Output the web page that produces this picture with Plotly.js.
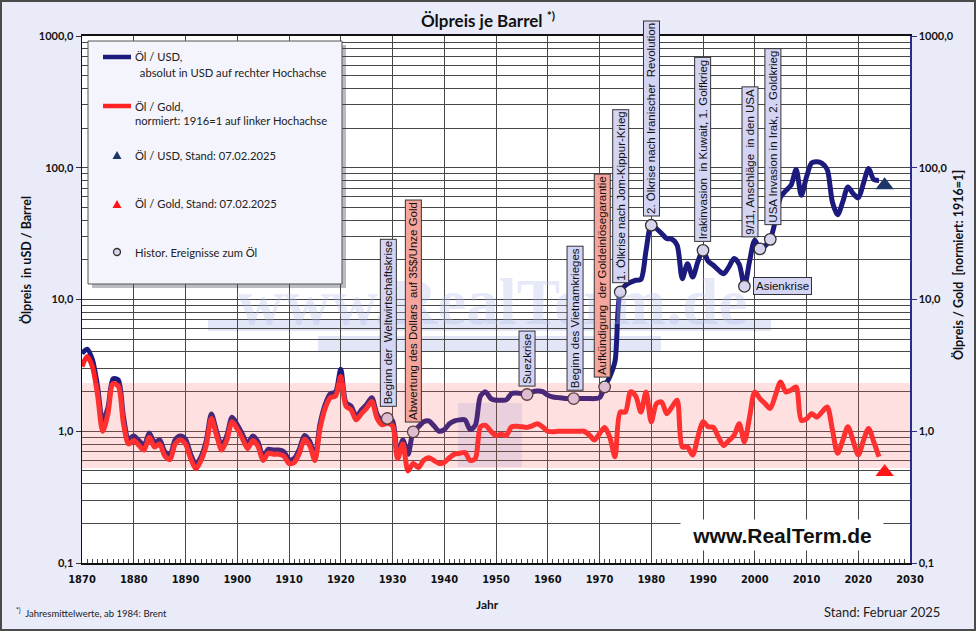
<!DOCTYPE html>
<html><head><meta charset="utf-8">
<script src="https://cdn.plot.ly/plotly-3.0.1.min.js"></script>
<style>html,body{margin:0;padding:0;background:#e8eaf8}#chart{width:976px;height:631px}</style>
</head><body><div id="chart"></div><script>
// ---------- data ----------
const startYear = 1870;
// Oil price in USD per barrel (annual means), 1870..2024
const oilUsd = [
  3.9, 4.2, 3.5, 2.2, 1.2, 1.5, 2.5, 2.45, 1.3, 0.87,
  0.92, 0.85, 0.78, 0.97, 0.82, 0.86, 0.70, 0.66, 0.86, 0.92,
  0.87, 0.67, 0.56, 0.64, 0.84, 1.35, 1.0, 0.78, 0.93, 1.28,
  1.12, 0.95, 0.80, 0.92, 0.83, 0.64, 0.73, 0.72, 0.72, 0.70,
  0.61, 0.62, 0.73, 0.93, 0.84, 0.64, 1.14, 1.6, 1.93, 1.99,
  2.95, 1.65, 1.55, 1.3, 1.45, 1.6, 1.8, 1.35, 1.2, 1.25,
  1.2, 0.66, 0.86, 0.67, 0.99, 1.08, 1.18, 1.2, 1.1, 1.0,
  1.03, 1.14, 1.2, 1.22, 1.22, 1.03, 1.11, 1.85, 1.99, 1.77,
  1.72, 1.72, 1.73, 1.93, 1.95, 1.93, 1.90, 1.99, 2.02, 2.0,
  1.88, 1.82, 1.80, 1.78, 1.77, 1.77, 1.77, 1.77, 1.77, 1.77,
  1.80, 2.17, 2.6, 3.4, 11.4, 12.8, 13.5, 14.0, 14.2, 23.6,
  36.6, 34.5, 31.7, 29.0, 28.7, 25.8, 14.4, 18.7, 14.8, 19.3,
  23.6, 19.5, 18.2, 16.7, 15.7, 17.7, 20.5, 18.5, 12.6, 19.5,
  28.2, 24.2, 25.5, 28.6, 40, 60, 67, 73.6, 97, 61.8,
  85, 109, 111, 108, 97, 55, 44, 55, 71.6, 63.7,
  59, 76, 98.6, 81.3, 80
];
// Oil / gold ratio, normalised 1916 = 1, 1870..2024
const oilGold = [
  3.1, 3.7, 3.1, 1.9, 1.0, 1.35, 2.3, 2.2, 1.15, 0.8,
  0.85, 0.78, 0.72, 0.9, 0.76, 0.8, 0.65, 0.61, 0.8, 0.86,
  0.8, 0.62, 0.52, 0.6, 0.78, 1.25, 0.93, 0.72, 0.86, 1.18,
  1.04, 0.88, 0.74, 0.85, 0.77, 0.6, 0.68, 0.67, 0.67, 0.65,
  0.57, 0.58, 0.68, 0.87, 0.78, 0.6, 1.05, 1.5, 1.8, 1.85,
  2.6, 1.55, 1.45, 1.22, 1.36, 1.5, 1.68, 1.26, 1.12, 1.15,
  1.1, 0.62, 0.8, 0.5, 0.57, 0.53, 0.6, 0.63, 0.6, 0.57,
  0.58, 0.63, 0.67, 0.68, 0.69, 0.6, 0.62, 1.08, 1.11, 1.0,
  0.93, 0.95, 0.93, 1.08, 1.09, 1.08, 1.07, 1.1, 1.14, 1.08,
  1.0, 0.99, 1.0, 1.0, 1.0, 1.0, 1.0, 1.0, 0.94, 0.86,
  0.96, 1.07, 0.9, 0.64, 1.4, 1.4, 1.99, 1.85, 1.4, 1.99,
  1.18, 1.62, 1.67, 1.36, 1.53, 1.72, 0.76, 0.76, 0.66, 0.9,
  1.18, 1.08, 1.07, 0.9, 0.78, 0.85, 0.93, 1.14, 0.83, 1.28,
  1.99, 1.77, 1.62, 1.49, 1.88, 2.37, 1.99, 2.05, 2.17, 1.21,
  1.24, 1.36, 1.28, 1.4, 1.53, 1.03, 0.68, 0.85, 1.08, 0.85,
  0.66, 0.85, 1.05, 0.83, 0.64
];
// Latest values (Stand: 07.02.2025)
const latestYear = 2025.1;
const latestUsd = 73.6;
const latestGold = 0.49;
// Historic events
const eventYears = [1929, 1934, 1956, 1965, 1971, 1974, 1980, 1990, 1998, 2001, 2003];
const eventLabels = [
  'Beginn der&nbsp; Weltwirtschaftskrise',
  'Abwertung des Dollars&nbsp; auf 35$/Unze Gold',
  'Suezkrise',
  'Beginn des Vietnamkrieges',
  'Aufkündigung&nbsp; der Goldeinlösegarantie',
  '1. Ölkrise nach Jom-Kippur-Krieg',
  '2. Ölkrise nach Iranischer&nbsp; Revolution',
  'Irakinvasion&nbsp; in Kuwait, 1. Golfkrieg',
  'Asienkrise',
  '9/11, Anschläge&nbsp; in den USA',
  'USA Invasion in Irak, 2. Goldkrieg'
];
const eventIsGold = [false, true, false, false, true, false, false, false, false, false, false];
// Axis ticks
const xTicks = [1870,1880,1890,1900,1910,1920,1930,1940,1950,1960,1970,1980,1990,2000,2010,2020,2030];
const yTickVals = [0.1, 1, 10, 100, 1000];
const yTickText = ['0,1', '1,0', '10,0', '100,0', '1000,0'];
const yMinorVals = [0.2,0.3,0.4,0.5,0.6,0.7,0.8,0.9, 2,3,4,5,6,7,8,9, 20,30,40,50,60,70,80,90, 200,300,400,500,600,700,800,900];

// ---------- helpers ----------
const years = oilUsd.map((_, i) => startYear + i);
const valueAt = (arr, yr) => arr[yr - startYear];
const L = 82, R = 910, T = 36, B = 563;
const px = x => (x - L) / (R - L);
const py = y => (B - y) / (B - T);
const NAVY = '#1c1a7c', RED = '#ff2424';
const SANS = 'Lato, "Open Sans", sans-serif';
const ARIAL = '"Liberation Sans", Arial, sans-serif';

// ---------- traces ----------
const traces = [
  {x: years, y: oilUsd, type: 'scatter', mode: 'lines', yaxis: 'y',
   line: {color: NAVY, width: 5, shape: 'spline', smoothing: 0.8}, hoverinfo: 'skip'},
  {x: years, y: oilGold, type: 'scatter', mode: 'lines', yaxis: 'y2',
   line: {color: RED, width: 5, shape: 'spline', smoothing: 0.8}, hoverinfo: 'skip'},
  {x: eventYears, y: eventYears.map(yr => valueAt(oilUsd, yr)), type: 'scatter', mode: 'markers', yaxis: 'y2',
   marker: {symbol: 'circle', size: 11.5, color: '#d8d4ee', line: {color: '#333', width: 1.3}}, hoverinfo: 'skip'},
  {x: [latestYear], y: [latestUsd], type: 'scatter', mode: 'markers', yaxis: 'y2',
   marker: {symbol: 'triangle-up', size: 16, color: '#1e3668'}, hoverinfo: 'skip'},
  {x: [latestYear], y: [latestGold], type: 'scatter', mode: 'markers', yaxis: 'y2',
   marker: {symbol: 'triangle-up', size: 16, color: '#ff1515'}, hoverinfo: 'skip'}
];

// ---------- shapes ----------
const shapes = [
  // watermark blocks
  {type:'rect', xref:'paper', yref:'paper', x0:px(208), x1:px(771), y0:py(331), y1:py(319), fillcolor:'#e2e6f7', line:{width:0}, layer:'below'},
  {type:'rect', xref:'paper', yref:'paper', x0:px(318), x1:px(661), y0:py(352), y1:py(336), fillcolor:'#e2e6f7', line:{width:0}, layer:'below'},
  {type:'rect', xref:'paper', yref:'paper', x0:px(458), x1:px(522), y0:py(467), y1:py(403), fillcolor:'#e7eafb', line:{width:0}, layer:'below'},
  // pink band
  {type:'rect', xref:'paper', yref:'paper', x0:0, x1:1, y0:py(468), y1:py(383), fillcolor:'rgba(250,100,100,0.2)', line:{width:0}, layer:'above'},
  // legend shadow + box
  {type:'rect', xref:'paper', yref:'paper', x0:px(92), x1:px(346), y0:py(288), y1:py(45), fillcolor:'rgba(60,60,80,0.35)', line:{width:0}, layer:'above'},
  {type:'rect', xref:'paper', yref:'paper', x0:px(88), x1:px(342), y0:py(284), y1:py(41), fillcolor:'#f3f4fc', line:{color:'#555', width:1}, layer:'above'},
  {type:'line', xref:'paper', yref:'paper', x0:px(103), x1:px(131), y0:py(57), y1:py(57), line:{color:NAVY, width:4.5}, layer:'above'},
  {type:'line', xref:'paper', yref:'paper', x0:px(103), x1:px(131), y0:py(106), y1:py(106), line:{color:RED, width:4.5}, layer:'above'},
  {type:'path', xref:'paper', yref:'paper', path:`M${px(112.5)},${py(159)} L${px(121.5)},${py(159)} L${px(117)},${py(151)} Z`, fillcolor:'#1e3668', line:{width:0}, layer:'above'},
  {type:'path', xref:'paper', yref:'paper', path:`M${px(112.5)},${py(208)} L${px(121.5)},${py(208)} L${px(117)},${py(200)} Z`, fillcolor:'#ff1515', line:{width:0}, layer:'above'},
  {type:'circle', xref:'paper', yref:'paper', x0:px(113.5), x1:px(120.5), y0:py(255.5), y1:py(248.5), fillcolor:'#d8d4ee', line:{color:'#333', width:1.3}, layer:'above'},
  // outer border
  {type:'rect', xref:'paper', yref:'paper', x0:px(1), x1:px(975), y0:py(630), y1:py(1), line:{color:'#4a4a4a', width:2}, layer:'above'}
];

// ---------- annotations ----------
const eventOffsets = [[1,12],[0,9],[0,8],[1,8],[-2,9],[0,9],[0,9],[0,8],[9,0],[-10,12],[3,14]];
const annotations = [];
// watermark
annotations.push({xref:'paper', yref:'paper', x:px(492), y:py(302), xanchor:'center', yanchor:'middle', text:'www.RealTerm.de', showarrow:false,
  font:{family:'"Liberation Serif", "DejaVu Serif", serif', size:65, color:'rgba(175,187,235,0.33)', weight:700}});
eventYears.forEach((yr, i) => {
  const v = valueAt(oilUsd, yr);
  const horiz = eventLabels[i] === 'Asienkrise';
  annotations.push({
    xref:'x', yref:'y', x: yr, y: Math.log10(v), text: eventLabels[i],
    textangle: horiz ? 0 : -90, showarrow: false,
    xanchor: horiz ? 'left' : 'center', yanchor: horiz ? 'middle' : 'bottom',
    xshift: eventOffsets[i][0], yshift: eventOffsets[i][1],
    bgcolor: eventIsGold[i] ? '#f6a59c' : '#d4d4f4', bordercolor:'#333', borderwidth:1, borderpad: horiz ? 2 : 1.5,
    font:{family:ARIAL, size:11.5, color:'#111'}
  });
});
// legend texts
const legTxt = [
  [133, 57, 'Öl / USD,'], [135, 72, ' absolut in USD auf rechter Hochachse'],
  [133, 106, 'Öl / Gold,'], [133, 121, 'normiert: 1916=1 auf linker Hochachse'],
  [133, 155, 'Öl / USD, Stand: 07.02.2025'], [133, 204, 'Öl / Gold, Stand: 07.02.2025'],
  [133, 252, 'Histor. Ereignisse zum Öl']
];
legTxt.forEach(t => annotations.push({xref:'paper', yref:'paper', x:px(t[0]), y:py(t[1]), text:t[2], showarrow:false,
  xanchor:'left', yanchor:'middle', font:{family:SANS, size:11.2, color:'#222'}}));
// axis titles and notes
annotations.push({xref:'paper', yref:'paper', x:px(26), y:py(260), xanchor:'center', yanchor:'middle', text:'Ölpreis  in uSD / Barrel', textangle:-90, showarrow:false,
  font:{family:SANS, size:12.5, color:'#111', weight:700}});
annotations.push({xref:'paper', yref:'paper', x:px(958), y:py(265), xanchor:'center', yanchor:'middle', text:'Ölpreis / Gold  [normiert: 1916=1]', textangle:-90, showarrow:false,
  font:{family:SANS, size:12.5, color:'#111', weight:700}});
annotations.push({xref:'paper', yref:'paper', x:px(487), y:py(604), xanchor:'center', yanchor:'middle', text:'Jahr', showarrow:false,
  font:{family:SANS, size:12, color:'#111', weight:700}});
annotations.push({xref:'paper', yref:'paper', x:px(14), y:py(612), text:'<sup>*)</sup>  Jahresmittelwerte, ab 1984: Brent', showarrow:false,
  xanchor:'left', yanchor:'middle', font:{family:SANS, size:9.5, color:'#222'}});
annotations.push({xref:'paper', yref:'paper', x:px(942), y:py(612), text:'Stand: Februar 2025', showarrow:false,
  xanchor:'right', yanchor:'middle', font:{family:SANS, size:13, color:'#222'}});
annotations.push({xref:'paper', yref:'paper', x:px(782), y:py(535), xanchor:'center', yanchor:'middle', text:'www.RealTerm.de', showarrow:false,
  bgcolor:'#ffffff', borderpad:3, width:196, height:24,
  font:{family:ARIAL, size:21, color:'#111', weight:700}});

// ---------- layout ----------
const gridC = '#474747';
const layout = {
  width: 976, height: 631,
  margin: {l: L, r: 976 - R, t: T, b: 631 - B, pad: 0},
  paper_bgcolor: '#e9ebf8', plot_bgcolor: '#ffffff',
  showlegend: false,
  title: {text: 'Ölpreis je Barrel <sup>*)</sup>', x: 0.5, xref: 'container', xanchor: 'center',
    y: 1 - 21/631, yanchor: 'middle', font: {family: SANS, size: 17, color: '#111', weight: 700}},
  xaxis: {range: [1870, 2030], tickmode: 'array', tickvals: xTicks, ticktext: xTicks.map(String),
    showgrid: true, gridcolor: gridC, gridwidth: 1, zeroline: false,
    showline: true, linecolor: '#111', linewidth: 2, mirror: true,
    ticks: 'inside', ticklen: 4, tickcolor: '#333',
    minor: {dtick: 1, tick0: 1870, ticks: 'inside', ticklen: 4, tickcolor: '#444', tickwidth: 1, showgrid: false},
    ticklabelstandoff: 5,
    tickfont: {family: '"Liberation Sans Narrow", "DejaVu Sans Condensed", sans-serif', size: 11, color: '#111', weight: 700}},
  yaxis: {type: 'log', range: [-1, 3], tickmode: 'array', tickvals: yTickVals, ticktext: yTickText,
    showgrid: true, gridcolor: gridC, gridwidth: 1, zeroline: false,
    showline: true, linecolor: '#111', linewidth: 1.5,
    ticks: 'outside', ticklen: 5, tickcolor: '#333',
    minor: {tickvals: yMinorVals, showgrid: true, gridcolor: gridC, gridwidth: 1, ticks: ''},
    tickfont: {family: SANS, size: 11, color: '#111', weight: 700}},
  yaxis2: {type: 'log', range: [-1, 3], overlaying: 'y', side: 'right', tickmode: 'array', tickvals: yTickVals, ticktext: yTickText,
    showgrid: false, zeroline: false, showline: true, linecolor: '#2b2b8c', linewidth: 1.5,
    ticks: 'outside', ticklen: 5, tickcolor: '#2b2b8c',
    tickfont: {family: SANS, size: 11, color: '#111', weight: 700}},
  shapes: shapes,
  annotations: annotations
};

Plotly.newPlot('chart', traces, layout, {displayModeBar: false, staticPlot: true});
</script></body></html>
